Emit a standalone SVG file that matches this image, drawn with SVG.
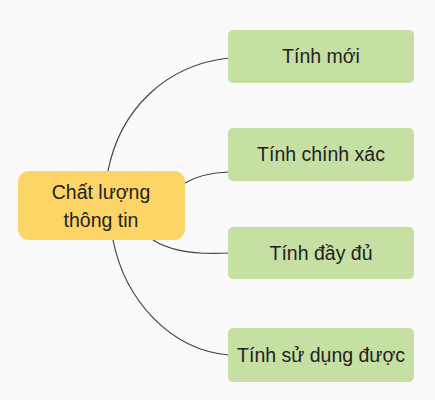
<svg xmlns="http://www.w3.org/2000/svg" width="435" height="400" viewBox="0 0 435 400">
<style>
.bg{fill:#fafafa}
.main{fill:#fdd466}
.leaf{fill:#c6dfa2}
.t{font-family:"Liberation Sans",Arial,sans-serif;font-size:19.5px;fill:#222;text-anchor:middle}
.c{fill:none;stroke:#444;stroke-width:1.2}
</style>
<rect class="bg" x="0" y="0" width="435" height="400"/>
<g id="connectors">
<path class="c" d="M108,171 C120,110 165,65 229,58"/>
<path class="c" d="M185,183 Q202,173 229,172"/>
<path class="c" d="M153,240 Q178,256 229,253"/>
<path class="c" d="M113,240 C125,300 170,350 229,355"/>
</g>
<g id="node-main">
<rect class="main" x="18" y="171" width="167" height="69" rx="11"/>
<text class="t" x="101" y="199">Chất lượng</text>
<text class="t" x="101" y="227">thông tin</text>
</g>
<g id="node-moi">
<rect class="leaf" x="228" y="30" width="186" height="53" rx="5"/>
<text class="t" x="321" y="63">Tính mới</text>
</g>
<g id="node-chinhxac">
<rect class="leaf" x="228" y="128" width="186" height="53" rx="5"/>
<text class="t" x="321" y="161">Tính chính xác</text>
</g>
<g id="node-dayu">
<rect class="leaf" x="228" y="227" width="186" height="52" rx="5"/>
<text class="t" x="321" y="260">Tính đầy đủ</text>
</g>
<g id="node-sudung">
<rect class="leaf" x="228" y="328" width="186" height="54" rx="5"/>
<text class="t" x="321" y="362">Tính sử dụng được</text>
</g>
</svg>
